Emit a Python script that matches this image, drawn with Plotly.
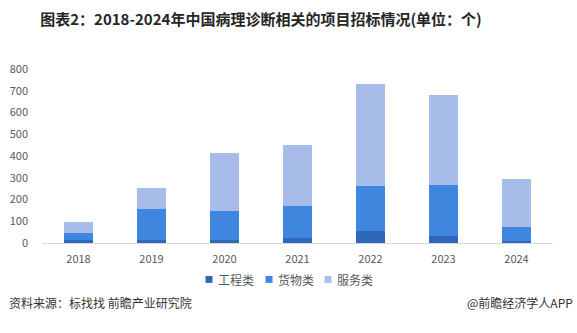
import plotly.graph_objects as go

years = ["2018", "2019", "2020", "2021", "2022", "2023", "2024"]
engineering = [12, 12, 12, 22, 55, 32, 8]
goods = [34, 144, 135, 148, 207, 235, 66]
services = [49, 97, 267, 280, 469, 413, 220]

series_names = ["工程类", "货物类", "服务类"]
colors = ["#3068b9", "#3f86de", "#a8bce9"]

W, H = 577, 333
L, R, T, B = 42, 24, 69, 89.5
pw = W - L - R
ph = H - T - B

def px_x(x):
    return (x - L) / pw

def px_y(y):
    return (H - B - y) / ph

font = "Noto Sans CJK SC, Microsoft YaHei, sans-serif"

fig = go.Figure()
for name, vals, col in zip(series_names, [engineering, goods, services], colors):
    fig.add_trace(go.Bar(x=years, y=vals, name=name, marker=dict(color=col, line=dict(width=0)),
                         width=0.4))

fig.update_layout(
    width=W, height=H,
    barmode="stack",
    paper_bgcolor="white", plot_bgcolor="white",
    margin=dict(l=L, r=R, t=T, b=B, pad=0, autoexpand=False),
    font=dict(family=font, size=11, color="#595959"),
    title=dict(text="<b>图表2：2018-2024年中国病理诊断相关的项目招标情况(单位：个)</b>",
               xref="container", yref="container", x=261 / W, y=1 - 20 / H,
               xanchor="center", yanchor="middle",
               font=dict(family=font, size=15, color="#262626")),
    xaxis=dict(showgrid=False, showline=True, linecolor="#d9d9d9", linewidth=1,
               ticks="", tickfont=dict(size=11, color="#595959"), automargin=False,
               ticklabelstandoff=6),
    yaxis=dict(range=[0, 800], dtick=100, showgrid=False, zeroline=False, showline=False,
               ticks="", tickfont=dict(size=11, color="#595959"), ticklabelstandoff=13,
               automargin=False),
    showlegend=False,
)

# Legend: small squares with labels beneath the chart
legend_x = [209, 269, 328]
for name, col, lx in zip(series_names, colors, legend_x):
    fig.add_shape(type="rect", xref="paper", yref="paper",
                  x0=px_x(lx - 3.5), x1=px_x(lx + 3.5), y0=px_y(283.5), y1=px_y(276.5),
                  fillcolor=col, line=dict(width=0))
    fig.add_annotation(text=name, xref="paper", yref="paper",
                       x=px_x(lx + 7), y=px_y(280), xanchor="left", yanchor="middle",
                       showarrow=False, font=dict(family=font, size=12, color="#595959"))

fig.add_annotation(text="资料来源：标找找 前瞻产业研究院", xref="paper", yref="paper",
                   x=px_x(7), y=px_y(303), xanchor="left", yanchor="middle", showarrow=False,
                   font=dict(family=font, size=12, color="#333333"))
fig.add_annotation(text="@前瞻经济学人APP", xref="paper", yref="paper",
                   x=px_x(575), y=px_y(303), xanchor="right", yanchor="middle", showarrow=False,
                   font=dict(family=font, size=12, color="#333333"))

fig.write_html("out.html")
